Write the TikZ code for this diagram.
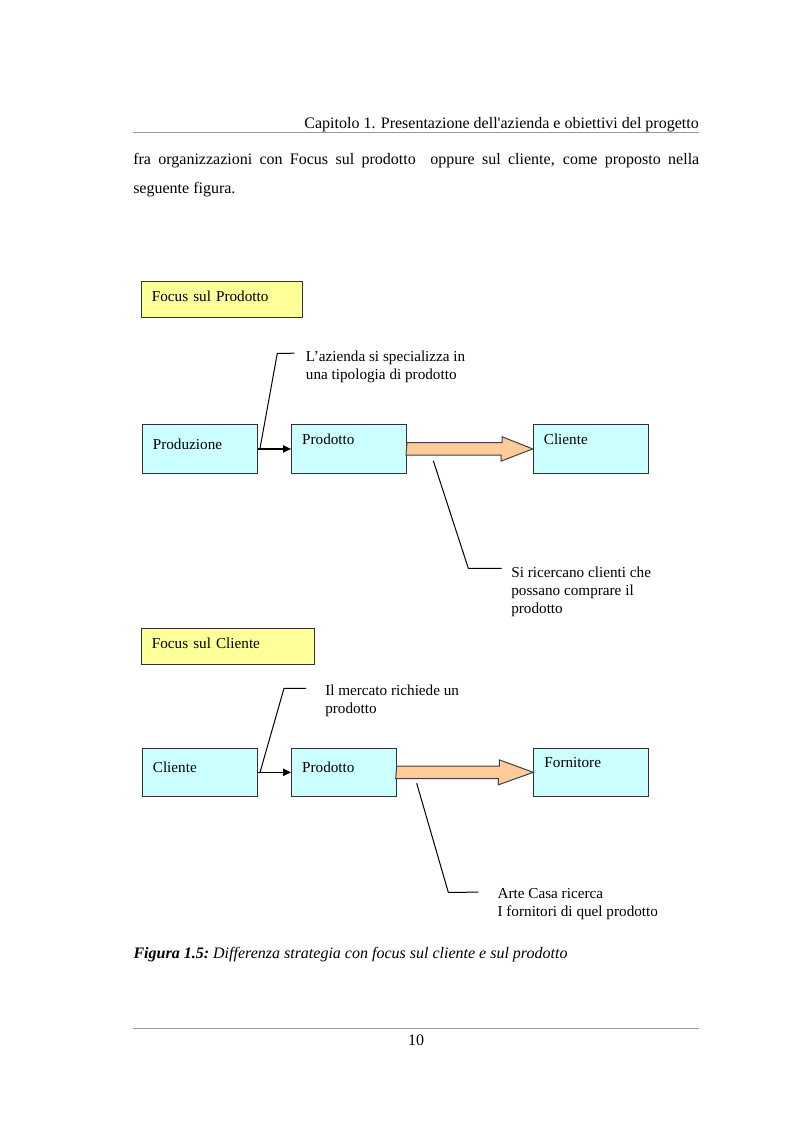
\documentclass[tikz,border=0pt]{standalone}
\usepackage{fontspec}
\newfontfamily\testo{Liberation Serif}
\usetikzlibrary{arrows.meta}
\definecolor{giallo}{HTML}{FFFF99}
\definecolor{azzurro}{HTML}{CCFFFF}
\definecolor{arancio}{HTML}{FFCC99}

\begin{document}
\begin{tikzpicture}[x=0.75pt,y=-0.75pt,
		font=\testo\fontsize{11.4}{13.6}\selectfont,
		pagina/.style={inner sep=0pt,font=\testo\fontsize{12}{14}\selectfont},
		riquadro/.style={draw=black!80,line width=0.75pt,fill=giallo,anchor=north west,inner xsep=7.8pt,inner ysep=0pt,align=left,text height=15pt,text depth=12pt},
		cella/.style={draw=black!80,line width=0.75pt,fill=azzurro,anchor=north west,inner xsep=8pt,inner ysep=0pt,align=left,text width=70.25pt,text height=14.8pt,text depth=21.4pt},
		centro/.style={text height=18.2pt,text depth=18pt},
		freccia/.style={line width=1.1pt,-{Triangle[length=6pt,width=5.5pt]}},
		freccione/.style={draw=black!75,line width=0.75pt,fill=arancio},
		richiamo/.style={line width=0.75pt},
		nota/.style={anchor=north west,inner ysep=0pt,inner xsep=#1,align=left},
		filetto/.style={draw=black!40,line width=0.75pt}]
		
		\useasboundingbox (0,0) rectangle (793,1123);
		
		\node[pagina,anchor=base east] (intestazione) at (699,128.3) {Capitolo 1. Presentazione dell'azienda e obiettivi del progetto};
		\draw[filetto] (133,132.3) -- (699,132.3);
		
		\node[pagina,anchor=base west] (riga1) at (133,165) {\makebox[424.5pt][s]{fra organizzazioni con Focus sul prodotto\ \ oppure sul cliente, come proposto nella}};
		\node[pagina,anchor=base west] (riga2) at (133,193.3) {seguente figura.};
		
		
		\node[riquadro,text width=105.5pt] (fp) at (141,281) {Focus sul Prodotto};
		
		\node[cella,centro] (prod) at (141.7,424.3) {Produzione};
		\node[cella] (p1) at (291,424.3) {Prodotto};
		\node[cella] (c1) at (532.7,424.3) {Cliente};
		
		\draw[freccia] (prod) -- (p1);
		\draw[freccione] (p1.east) ++(0,-6.3) -- ++(95,0) -- ++(0,-5.9) -- (c1.west)
		-- ++(-31.7,12.2) -- ++(0,-5.9) -- ++(-95,0) -- cycle;
		
		\coordinate (k1) at (260,448.4);
		\node[nota=8.5pt] (n1) at (294.3,350.3) {L’azienda si specializza in\\una tipologia di prodotto};
		\draw[richiamo] (k1) -- (277.3,353.3) -- ([yshift=-2.2pt]n1.north west);
		
		\coordinate (k2) at (433.3,460.7);
		\node[nota=7pt] (n2) at (501.7,566.3) {Si ricercano clienti che\\possano comprare il\\prodotto};
		\draw[richiamo] (k2) -- (468.3,568.3) -- ([yshift=-1.5pt]n2.north west);
		
		
		\node[riquadro,text width=114pt] (fc) at (141,628.3) {Focus sul Cliente};
		
		\node[cella,centro] (c2) at (141.7,747.7) {Cliente};
		\node[cella,centro,text width=62.5pt] (p2) at (291,747.7) {Prodotto};
		\node[cella] (f2) at (533.3,747.7) {Fornitore};
		
		\draw[freccia] (c2) -- (p2);
		\draw[freccione] (p2.east) ++(0,-6.3) -- ++(102.6,0) -- ++(0,-6.2) -- (f2.west)
		-- ++(-35,12.5) -- ++(0,-6.2) -- ++(-102.6,0) -- cycle;
		
		\coordinate (k3) at (260,772.3);
		\node[nota=14.25pt] (n3) at (306,684.6) {Il mercato richiede un\\prodotto};
		\draw[richiamo] (k3) -- (284,688.3) -- ([yshift=-2.8pt]n3.north west);
		
		\coordinate (k4) at (416.7,783.3);
		\node[nota=14.25pt] (n4) at (478.3,888.2) {Arte Casa ricerca\\I fornitori di quel prodotto};
		\draw[richiamo] (k4) -- (448.3,892.3) -- ([yshift=-3pt]n4.north west);
		
		
		\node[pagina,anchor=base west] (didascalia) at (133.3,958.3) {\bfseries\itshape Figura 1.5:\ \mdseries Differenza strategia con focus sul cliente e sul prodotto};
		
		\draw[filetto] (133,1028.3) -- (699,1028.3);
		\node[pagina,anchor=base] (numero) at (416,1045) {10};
		
	\end{tikzpicture}
\end{document}
